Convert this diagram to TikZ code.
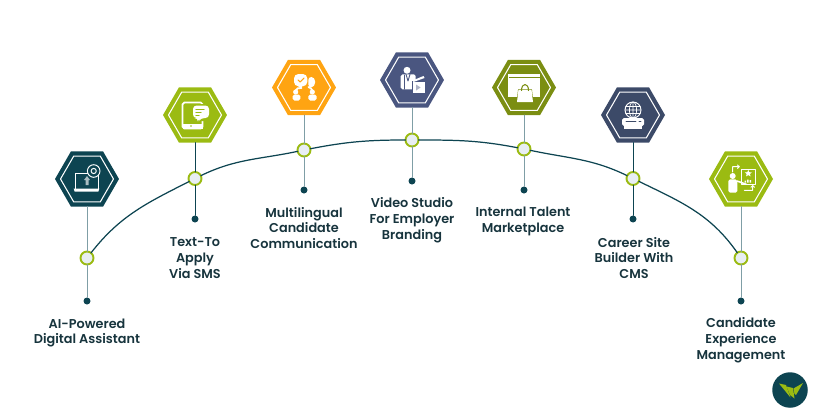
\documentclass[tikz,border=0pt]{standalone}
\usepackage{fontspec}
\setmainfont{Poppins}
\newfontfamily\labelfont{Poppins SemiBold}
\usetikzlibrary{shapes.geometric}
\definecolor{tealdark}{HTML}{0D4451}
\definecolor{stemgray}{HTML}{7F9EA6}
\definecolor{limegreen}{HTML}{9BBB12}
\definecolor{amber}{HTML}{FFA412}
\definecolor{indigo}{HTML}{4A5680}
\definecolor{olive}{HTML}{7B8E12}
\definecolor{navy}{HTML}{3C4A68}
\definecolor{ringfill}{HTML}{E8EEF3}
\definecolor{labelink}{HTML}{17343D}
\tikzset{
	hexbox/.style={regular polygon,regular polygon sides=6,minimum size=1.28cm,inner sep=0,outer sep=0,fill=#1},
	hexline/.style={regular polygon,regular polygon sides=6,minimum size=1.06cm,inner sep=0,outer sep=0,draw=white,line width=0.6pt},
	ring/.style={circle,minimum size=0.26cm,inner sep=0,outer sep=0,draw=limegreen,line width=1.1pt,fill=ringfill},
	enddot/.style={circle,minimum size=0.14cm,inner sep=0,outer sep=0,fill=tealdark},
	stem/.style={line width=0.55pt,draw=#1},
	curve/.style={line width=0.7pt,draw=tealdark},
	caption/.style={align=center,text=labelink,inner sep=0,font=\labelfont\fontsize{7.3}{9.05}\selectfont},
	white line/.style={draw=white,line width=0.55pt,line cap=round,line join=round}
}
\begin{document}
\begin{tikzpicture}[x=0.02cm,y=0.02cm,line join=round,line cap=round]
	\useasboundingbox (0,0) rectangle (818,417);
	% hexagons, rings and end dots
	\foreach \n/\x/\yh/\yr/\yd/\c/\s in {
		A/87/238/159/116/tealdark/stemgray,
		B/195/302/238.5/198/limegreen/tealdark,
		C/304/329.5/267/227/amber/stemgray,
		D/412/337/277/236/indigo/stemgray,
		E/524/329.5/268/227/olive/stemgray,
		F/633/302/238.5/198/navy/tealdark,
		G/741/238/159/116/limegreen/stemgray}{
		\node[hexbox=\c] (hex\n) at (\x,\yh) {};
		\node[hexline] (inner\n) at (\x,\yh) {};
		\node[ring] (ring\n) at (\x,\yr) {};
		\node[enddot] (dot\n) at (\x,\yd) {};
		\draw[stem=\s] (hex\n.south)--(ring\n);
		\draw[stem=\s] (ring\n)--(dot\n);
	}
	% main arc
	\draw[curve] (ringA) to[out=52,in=207] (ringB);
	\draw[curve] (ringB) to[out=26,in=192] (ringC);
	\draw[curve] (ringC) to[out=11,in=180] (ringD);
	\draw[curve] (ringD) to[out=0,in=169] (ringE);
	\draw[curve] (ringE) to[out=-12,in=154] (ringF);
	\draw[curve] (ringF) to[out=-26,in=125] (ringG);
	% labels
	\node[caption] (textA) at (87,84) {AI-Powered\\Digital Assistant};
	\node[caption] (textB) at (195,159) {Text-To\\Apply\\Via SMS};
	\node[caption] (textC) at (304,189) {Multilingual\\Candidate\\Communication};
	\node[caption] (textD) at (412,197) {Video Studio\\For Employer\\Branding};
	\node[caption] (textE) at (523,196) {Internal Talent\\Marketplace};
	\node[caption] (textF) at (634,159) {Career Site\\Builder With\\CMS};
	\node[caption] (textG) at (741,77) {Candidate\\Experience\\Management};
	% icon A: laptop
	\begin{scope}[shift={(hexA.center)}]
		\draw[white line,fill=tealdark] (-11.7,-10) rectangle (11,6);
		\fill[white] (-13.3,-9.7)--(12.3,-9.7)--(11.3,-12.7)--(-12.3,-12.7)--cycle;
		\fill[white!65!tealdark] (-1.5,-6) rectangle (1.5,-1) (-3,-1)--(0,3)--(3,-1)--cycle;
		\draw[white line,fill=tealdark] (6.7,8) circle (6.3);
		\draw[white line] (6.7,8) circle (2.6);
	\end{scope}
	% icon B: tablet with bubble
	\begin{scope}[shift={(hexB.center)}]
		\draw[white line,line width=1pt,rounded corners=1pt] (-12.5,12.5) rectangle (7.5,-13.5);
		\fill[white] (-12.5,-8.5) rectangle (7.5,-13.5);
		\fill[limegreen] (-4,-11) circle (0.9);
		\fill[limegreen,rounded corners=1.5pt] (-3.5,11) rectangle (15,-6);
		\fill[white,rounded corners=2pt] (-2,9.5)--(14,9.5)--(14,-3)--(6,-3)--(3,-7)--(3,-3)--(-2,-3)--cycle;
		\draw[limegreen,line width=0.6pt] (1,5.5)--(9,5.5) (1,2.5)--(6,2.5) (1,-0.5)--(4,-0.5);
	\end{scope}
	% icon C: two speakers
	\begin{scope}[shift={(hexC.center)}]
		\fill[white,rounded corners=2pt] (4.3,11)--(11,10)--(11,1)--(4.3,-0.5)--cycle;
		\fill[white,rounded corners=2.5pt] (-10,13.5) rectangle (3.3,1.2);
		\fill[white] (-6,1.5)--(-2,1.5)--(-3,-1.5)--cycle;
		\draw[amber,line width=0.6pt] (-6,7.5)--(-3.8,5.5)--(0,9.5);
		\draw[white line,line width=1pt] (-8.3,-3)..controls (-8.3,-0.5) and (-5,-0.5)..(-2.5,-0.5);
		\draw[white line,line width=1pt] (8.3,-3)..controls (8.3,-1) and (6,-0.5)..(4.5,0.5);
		\fill[white] (-8.3,-4.5) circle (2.6) (8.3,-4.5) circle (2.6);
		\fill[white,rounded corners=1pt] (-11.3,-13) rectangle (-3.7,-7) (4.3,-13) rectangle (12.7,-7);
	\end{scope}
	% icon D: person with clapboard
	\begin{scope}[shift={(hexD.center)}]
		\fill[white] (-5,9.7) circle (3.5);
		\fill[white,rounded corners=1pt] (-11.3,-9.3) rectangle (3.7,5.7);
		\draw[indigo,line width=0.5pt] (-7.5,5)--(-7.5,-9.3) (-2,5.7)--(-4,-1)--(-6,5.7);
		\draw[indigo,fill=white,line width=0.5pt] (0,-13.3) rectangle (13.3,-1);
		\fill[white!55!indigo] (4,-10.5)--(4,-4.5)--(8.5,-7.5)--cycle;
		\fill[white] (0.5,-0.5)--(11.5,4)--(12.5,2)--(1.5,-2)--cycle;
	\end{scope}
	% icon E: window with bag
	\begin{scope}[shift={(hexE.center)}]
		\fill[white] (-16,14) rectangle (16,-9);
		\fill[olive] (-15.5,10) rectangle (15.5,11);
		\draw[olive,line width=0.5pt] (-7,-14.5)--(9,-14.5)--(7.5,-2)--(-5.5,-2)--cycle;
		\fill[white] (-7,-14.5)--(9,-14.5)--(7.5,-2)--(-5.5,-2)--cycle;
		\draw[olive,line width=0.6pt] (-2.5,-3)..controls (-2.5,5) and (4.5,5)..(4.5,-3);
	\end{scope}
	% icon F: globe on a stand
	\begin{scope}[shift={(hexF.center)}]
		\draw[white line,fill=navy] (0,5) circle (8);
		\draw[white line,line width=0.4pt] (-8,5)--(8,5) (-7,8.5)--(7,8.5) (-7,1.5)--(7,1.5) (0,13)--(0,-3) (0,5) ellipse (3.6 and 8);
		\fill[white,rounded corners=1pt] (-11,-3) rectangle (11,-11);
		\fill[white] (-9,-11) rectangle (9,-14);
		\draw[navy,line width=0.5pt] (-7,-6.5)--(3,-6.5) (6,-6.5)--(8,-6.5);
	\end{scope}
	% icon G: person with report
	\begin{scope}[shift={(hexG.center)}]
		\draw[white line,fill=limegreen] (0,10) rectangle (14.3,-5);
		\fill[white] (7.3,9)--(8.3,6.8)--(10.8,6.6)--(8.9,5)--(9.6,2.6)--(7.3,3.9)--(5,2.6)--(5.7,5)--(3.8,6.6)--(6.3,6.8)--cycle;
		\fill[white] (3.5,-3.5) rectangle (5,-1.5) (6,-3.5) rectangle (7.5,-0.5) (8.5,-3.5) rectangle (10,-1);
		\fill[white] (-8.3,3) circle (3);
		\fill[white,rounded corners=1pt] (-12.7,-13.7) rectangle (-3.7,-0.3);
		\draw[white line,line width=0.9pt] (-4,-2)--(5.3,-5.3);
		\draw[white line] (-8.3,7)--(-8.3,12.3)--(-1.7,12.3) (-3.5,14)--(-1.7,12.3)--(-3.5,10.6) (3.3,-11.3)--(11.7,-11.3)--(11.7,-6.5) (10,-8.2)--(11.7,-6.5)--(13.4,-8.2);
	\end{scope}
	% logo
	\node[circle,minimum size=0.71cm,inner sep=0,fill=tealdark] (logo) at (790,27) {};
	\begin{scope}[shift={(logo.center)}]
		\fill[limegreen] (-11,6.5)--(-4,5)--(0.5,-7.5)--cycle;
		\fill[limegreen] (-3.5,3.5)--(3,2)--(4.5,-8.5)--(0,-5)--cycle;
		\fill[limegreen] (3.5,1.5)--(13,7)--(6,-5)--(4.5,-4)--cycle;
	\end{scope}
\end{tikzpicture}
\end{document}
